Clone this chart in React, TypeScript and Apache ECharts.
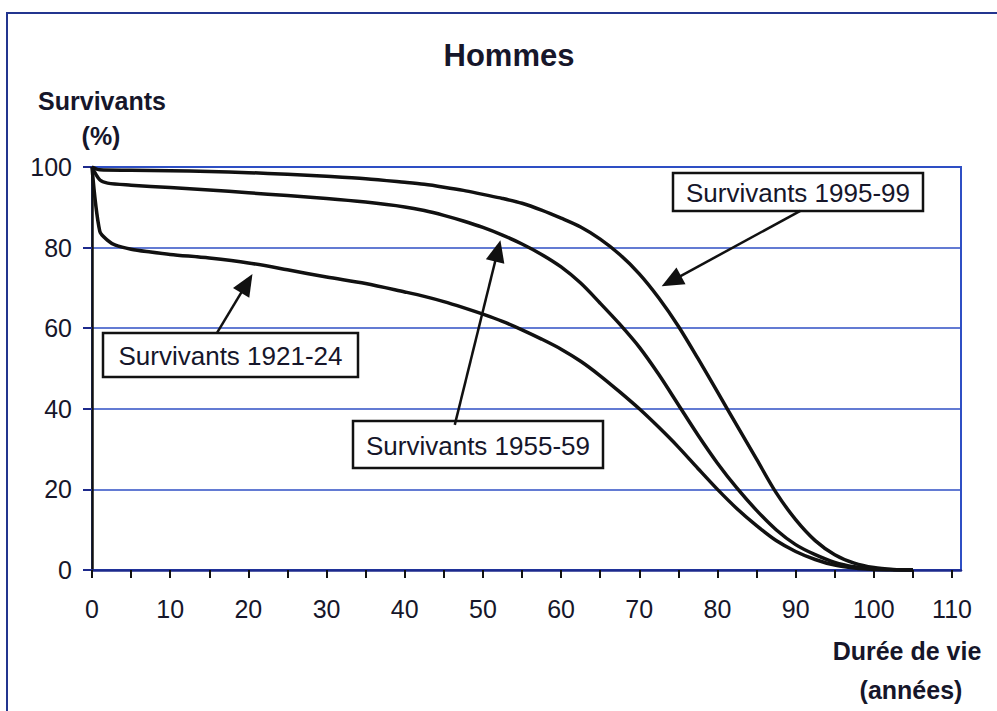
import React, { useEffect, useRef } from "react";
import * as echarts from "echarts";

// ---- Data ----
const xTicks = [0, 5, 10, 15, 20, 25, 30, 35, 40, 45, 50, 55, 60, 65, 70, 75, 80, 85, 90, 95, 100, 105, 110];
const xLabels = [0, 10, 20, 30, 40, 50, 60, 70, 80, 90, 100, 110];

const ages95 = [0, 1, 5, 10, 15, 20, 25, 30, 35, 40, 42.5, 45, 47.5, 50, 52.5, 55, 57.5, 60, 62.5, 65, 67.5, 70, 72.5, 75, 77.5, 80, 82.5, 85, 87.5, 90, 92.5, 95, 97.5, 100, 102.5, 105];
const surv95 = [100, 99.3, 99.2, 99.1, 98.9, 98.6, 98.2, 97.7, 97.1, 96.2, 95.7, 95, 94.2, 93.2, 92.2, 91, 89.3, 87.3, 85.1, 82.1, 78.3, 73.5, 67.5, 60.5, 52.5, 44.2, 35.8, 27.5, 19.2, 12.5, 7.3, 3.8, 1.7, 0.6, 0.15, 0];

const ages55 = [0, 1, 2, 5, 10, 15, 20, 25, 30, 35, 40, 42.5, 45, 47.5, 50, 52.5, 55, 57.5, 60, 62.5, 65, 67.5, 70, 72.5, 75, 77.5, 80, 82.5, 85, 87.5, 90, 92.5, 95, 97.5, 100, 102.5, 105];
const surv55 = [100, 96.8, 96, 95.5, 94.9, 94.3, 93.6, 92.9, 92.2, 91.3, 90.1, 89.2, 88, 86.6, 85, 83.1, 80.9, 78.3, 75.2, 71.2, 66.2, 61, 55.3, 48.5, 41, 33.5, 26.5, 20.3, 14.8, 10, 6.3, 3.8, 1.9, 0.8, 0.25, 0.05, 0];

const ages21 = [0, 1, 2, 3, 5, 7.5, 10, 15, 20, 25, 30, 35, 40, 42.5, 45, 47.5, 50, 52.5, 55, 57.5, 60, 62.5, 65, 67.5, 70, 72.5, 75, 77.5, 80, 82.5, 85, 87.5, 90, 92.5, 95, 97.5, 100, 102.5, 105];
const surv21 = [100, 84, 81.8, 80.6, 79.6, 78.9, 78.3, 77.4, 76.2, 74.5, 72.7, 71.1, 69, 67.9, 66.6, 65.1, 63.5, 61.7, 59.6, 57.3, 54.8, 51.8, 48.2, 44.2, 40, 35.4, 30.5, 25.2, 20, 15.2, 11, 7.3, 4.6, 2.6, 1.2, 0.5, 0.15, 0.03, 0];

// annotation arrows: [fromAge, fromPct, toAge, toPct]
const arrow95 = [90.6, 89.1, 74.1, 71.7];
const arrow55 = [46.4, 36.0, 51.9, 79.2];
const arrow21 = [15.95, 58.7, 19.8, 71.1];

const labels = ["Survivants 1995-99", "Survivants 1955-59", "Survivants 1921-24"];

const FONT = "'Liberation Sans', Arial, sans-serif";
const TXT = "#16162a";
const BLUE = "#2f4fc4";

function pairs(xs: number[], ys: number[]) {
  return xs.map((x, i) => [x, ys[i]]);
}

function arrowMark(a: number[]) {
  return {
    silent: true,
    animation: false,
    symbol: ["none", "triangle"],
    symbolSize: [19, 22],
    label: { show: false },
    lineStyle: { color: "#111", width: 2.5, type: "solid" },
    emphasis: { disabled: true },
    data: [[{ coord: [a[0], a[1]] }, { coord: [a[2], a[3]] }]],
  };
}

function box(x: number, y: number, w: number, h: number, text: string) {
  return {
    type: "group",
    x,
    y,
    children: [
      { type: "rect", shape: { x: 0, y: 0, width: w, height: h }, style: { fill: "#fff", stroke: "#111", lineWidth: 2.5 } },
      {
        type: "text",
        x: w / 2,
        y: h / 2 + 1,
        style: { text, fontFamily: FONT, fontSize: 26, fill: TXT, align: "center", verticalAlign: "middle" },
      },
    ],
  };
}

export default function App() {
  const ref = useRef<HTMLDivElement>(null);
  useEffect(() => {
    document.body.style.margin = "0";
    const chart = echarts.init(ref.current!, null, { renderer: "svg" });
    const lineSeries = (name: string, xs: number[], ys: number[], a: number[]) => ({
      type: "line",
      name,
      data: pairs(xs, ys),
      showSymbol: false,
      smooth: 0.3,
      lineStyle: { color: "#111", width: 3.5, join: "round" },
      markLine: arrowMark(a),
      z: 3,
    });
    chart.setOption({
      animation: false,
      backgroundColor: "#fff",
      grid: {
        left: 92,
        right: 36,
        top: 167,
        bottom: 141,
        show: true,
        borderColor: BLUE,
        borderWidth: 2,
        backgroundColor: "transparent",
      },
      xAxis: {
        type: "value",
        min: 0,
        max: 111.15,
        axisLine: { show: true, lineStyle: { color: "#1d2a8c", width: 2.5 } },
        axisTick: { show: true, length: 8, customValues: xTicks, lineStyle: { color: "#111", width: 2 } },
        axisLabel: {
          customValues: xLabels,
          fontFamily: FONT,
          fontSize: 25,
          color: TXT,
          margin: 26,
        },
        splitLine: { show: false },
      },
      yAxis: {
        type: "value",
        min: 0,
        max: 100,
        interval: 20,
        axisLine: { show: true, lineStyle: { color: "#111", width: 2.5 } },
        axisTick: { show: true, length: 9, lineStyle: { color: "#1d2a8c", width: 2 } },
        axisLabel: { fontFamily: FONT, fontSize: 25, color: TXT, margin: 20 },
        splitLine: { show: true, lineStyle: { color: BLUE, width: 1.6 } },
      },
      series: [
        lineSeries(labels[0], ages95, surv95, arrow95),
        lineSeries(labels[1], ages55, surv55, arrow55),
        lineSeries(labels[2], ages21, surv21, arrow21),
      ],
      graphic: [
        {
          type: "rect",
          shape: { x: 7, y: 13, width: 1100, height: 800 },
          style: { fill: "none", stroke: "#23358f", lineWidth: 2 },
          silent: true,
        },
        {
          type: "text",
          x: 509,
          y: 55,
          style: { text: "Hommes", fontFamily: FONT, fontSize: 31, fontWeight: "bold", fill: TXT, align: "center", verticalAlign: "middle" },
        },
        {
          type: "text",
          x: 102,
          y: 101,
          style: { text: "Survivants", fontFamily: FONT, fontSize: 25, fontWeight: "bold", fill: TXT, align: "center", verticalAlign: "middle" },
        },
        {
          type: "text",
          x: 101,
          y: 136,
          style: { text: "(%)", fontFamily: FONT, fontSize: 25, fontWeight: "bold", fill: TXT, align: "center", verticalAlign: "middle" },
        },
        {
          type: "text",
          x: 907,
          y: 651,
          style: { text: "Durée de vie", fontFamily: FONT, fontSize: 25, fontWeight: "bold", fill: TXT, align: "center", verticalAlign: "middle" },
        },
        {
          type: "text",
          x: 911,
          y: 690,
          style: { text: "(années)", fontFamily: FONT, fontSize: 25, fontWeight: "bold", fill: TXT, align: "center", verticalAlign: "middle" },
        },
        box(673, 173, 250, 38, labels[0]),
        box(353, 421, 250, 47, labels[1]),
        box(103, 333, 255, 44, labels[2]),
      ],
    });
    return () => chart.dispose();
  }, []);
  return <div ref={ref} style={{ width: 997, height: 711 }} />;
}
